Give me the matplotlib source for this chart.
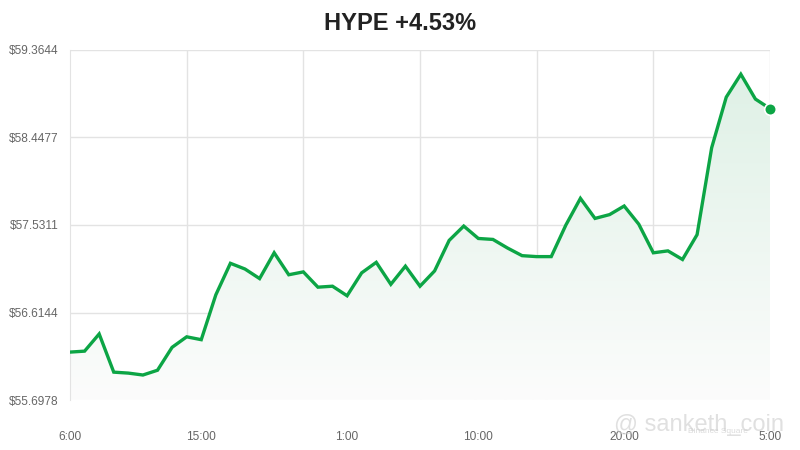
import numpy as np
import matplotlib.pyplot as plt
from matplotlib.colors import LinearSegmentedColormap

plt.rcParams['font.family'] = ['Liberation Sans', 'DejaVu Sans']

# hourly prices, 6:00 -> 5:00 next day
prices = [56.20, 56.21, 56.39, 55.99, 55.98, 55.96, 56.01, 56.25, 56.36, 56.33,
          56.80, 57.13, 57.07, 56.97, 57.24, 57.01, 57.04, 56.88, 56.89, 56.79,
          57.03, 57.14, 56.91, 57.10, 56.89, 57.05, 57.37, 57.52, 57.39, 57.38,
          57.29, 57.21, 57.20, 57.20, 57.53, 57.81, 57.60, 57.64, 57.73, 57.54,
          57.24, 57.26, 57.17, 57.43, 58.34, 58.87, 59.11, 58.85, 58.75]
y_ticks = [55.6978, 56.6144, 57.5311, 58.4477, 59.3644]
x_label_pos = [0, 9, 19, 28, 38, 48]
x_labels = ["6:00", "15:00", "1:00", "10:00", "20:00", "5:00"]
grid_pos = [8, 16, 24, 32, 40, 48]

green = "#0ca545"
x = np.arange(len(prices))

fig = plt.figure(figsize=(8, 4.5), dpi=100)
ax = fig.add_axes([0.0875, 0.111, 0.875, 0.778])
ymin, ymax = y_ticks[0], y_ticks[-1]

# gradient fill under the line
cmap = LinearSegmentedColormap.from_list("g", ["#fcfcfc", "#dff1e6"])
grad = np.linspace(0, 1, 256).reshape(-1, 1)
img = ax.imshow(grad, extent=[0, 48, ymin, max(prices)], origin="lower",
                cmap=cmap, aspect="auto", zorder=1)
poly = ax.fill_between(x, prices, ymin, color="none")
clip = poly.get_paths()[0]
img.set_clip_path(clip, transform=ax.transData)

ax.plot(x, prices, color=green, lw=2.4, zorder=3, solid_joinstyle="miter")
ax.scatter([x[-1]], [prices[-1]], s=70, color=green, edgecolor="white",
           linewidth=1.2, zorder=4, clip_on=False)

ax.set_xlim(0, 48)
ax.set_ylim(ymin, ymax)
ax.set_yticks(y_ticks)
ax.set_yticklabels(["$%.4f" % v for v in y_ticks])
ax.set_xticks(x_label_pos)
ax.set_xticklabels(x_labels)
ax.tick_params(colors="#666666", labelsize=8.6, length=0, pad=8)
ax.tick_params(axis="x", pad=22)

for v in y_ticks:
    ax.axhline(v, color="#e3e3e3", lw=1, zorder=0)
for g in grid_pos:
    ax.axvline(g, color="#e3e3e3", lw=1, zorder=0)
for s in ax.spines.values():
    s.set_visible(False)
ax.spines["left"].set_visible(True)
ax.spines["left"].set_color("#e3e3e3")

fig.text(0.5, 0.948, "HYPE +4.53%", ha="center", va="center",
         fontsize=17, fontweight="bold", color="#222222")

# watermark
fig.text(0.768, 0.055, "@ sanketh_coin", fontsize=17, color="#cccccc",
         alpha=0.6, va="center")
fig.text(0.86, 0.042, "Binance Square", fontsize=6, color="#cccccc",
         alpha=0.7, va="center")

fig.savefig("out.png", dpi=100)
